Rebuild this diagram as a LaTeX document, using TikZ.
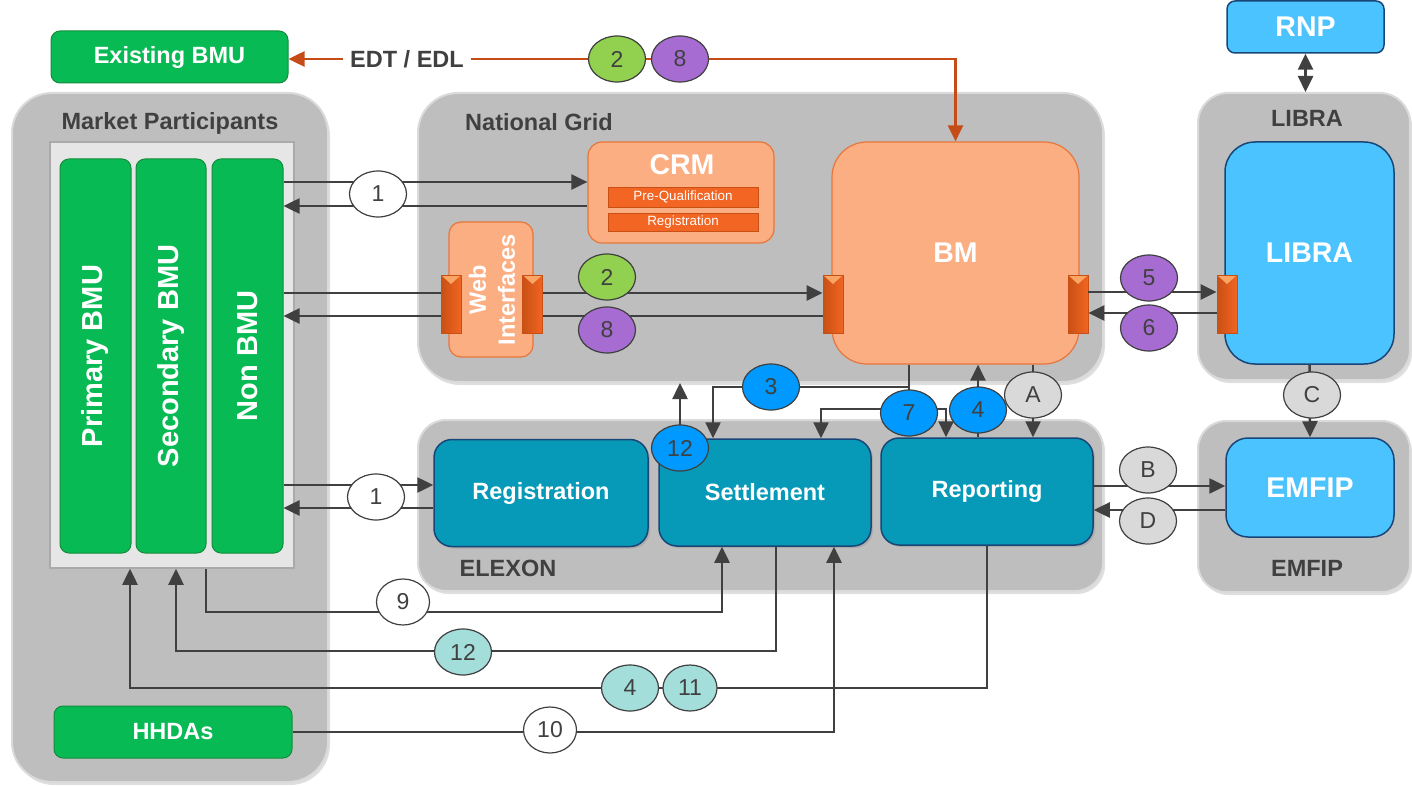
\documentclass[tikz,border=0pt]{standalone}
\usepackage{fontspec}
\setmainfont{Liberation Sans}
\usepackage{tikz}
\usetikzlibrary{
    arrows.meta,
    shapes.geometric,
    shadows
}

\definecolor{groupgray}{RGB}{190,190,190}
\definecolor{groupedge}{RGB}{218,218,218}
\definecolor{innergray}{RGB}{230,230,230}
\definecolor{inneredge}{RGB}{170,170,170}
\definecolor{mpgreen}{RGB}{8,186,84}
\definecolor{greenedge}{RGB}{20,140,60}
\definecolor{crmorange}{RGB}{251,174,130}
\definecolor{orangeedge}{RGB}{232,118,60}
\definecolor{deeporange}{RGB}{242,101,34}
\definecolor{portdark}{RGB}{200,80,20}
\definecolor{portlight}{RGB}{250,165,100}
\definecolor{tealbox}{RGB}{6,154,184}
\definecolor{navyedge}{RGB}{25,70,120}
\definecolor{skyblue}{RGB}{75,195,255}
\definecolor{linegray}{RGB}{64,64,64}
\definecolor{edtorange}{RGB}{197,75,23}
\definecolor{bgreen}{RGB}{146,208,80}
\definecolor{bpurple}{RGB}{167,108,210}
\definecolor{bblue}{RGB}{0,153,255}
\definecolor{bteal}{RGB}{164,222,219}
\definecolor{bgray}{RGB}{217,217,217}

\begin{document}
\begin{tikzpicture}[x=1pt,y=-1pt,>={Triangle[length=16pt,width=15pt]}]
    \tikzstyle{sysgroup}=[rectangle, rounded corners=40pt, fill=groupgray, draw=groupedge, line width=2pt, drop shadow={opacity=0.25, shadow xshift=2pt, shadow yshift=-3pt}]
    \tikzstyle{grouptitle}=[text=linegray, inner sep=2pt, font=\fontsize{23.5}{28}\selectfont\bfseries]
    \tikzstyle{gbox}=[rectangle, rounded corners=9pt, fill=mpgreen, draw=greenedge, line width=1pt, text=white, font=\fontsize{23.5}{28}\selectfont\bfseries]
    \tikzstyle{obox}=[rectangle, fill=crmorange, draw=orangeedge, line width=1.2pt, text=white, font=\fontsize{28.5}{32}\selectfont\bfseries]
    \tikzstyle{subbox}=[rectangle, fill=deeporange, draw=portdark, line width=0.8pt, inner sep=0pt, minimum width=150pt, text=white, font=\fontsize{13.4}{15}\selectfont]
    \tikzstyle{tbox}=[rectangle, rounded corners=18pt, fill=tealbox, draw=navyedge, line width=1.5pt, text=white, minimum width=212pt, minimum height=107pt, font=\fontsize{23.5}{28}\selectfont\bfseries, drop shadow={opacity=0.3, shadow xshift=2pt, shadow yshift=-2pt}]
    \tikzstyle{sbox}=[rectangle, fill=skyblue, draw=navyedge, line width=1.5pt, text=white, font=\fontsize{28.5}{32}\selectfont\bfseries]
    \tikzstyle{vtxt}=[rotate=90, text=white, font=\fontsize{29}{34}\selectfont\bfseries]
    \tikzstyle{port}=[rectangle, minimum width=20pt, minimum height=58pt, inner sep=0pt, left color=portdark, right color=deeporange, draw=portdark, line width=0.8pt,
        path picture={\fill[portlight] (path picture bounding box.north west) -- (path picture bounding box.north east) -- ([yshift=-9pt]path picture bounding box.north) -- cycle;}]
    \tikzstyle{flow}=[draw=linegray, line width=2.5pt, ->]
    \tikzstyle{link}=[draw=linegray, line width=2.5pt]
    \tikzstyle{edtline}=[draw=edtorange, line width=2.5pt]
    \tikzstyle{bubble}=[ellipse, draw=linegray, line width=1.2pt, minimum width=57pt, minimum height=46pt, inner sep=0pt, text=linegray, font=\fontsize{23}{26}\selectfont]

    \useasboundingbox (0,0) rectangle (1412,786);

    % system groups
    \node[sysgroup, minimum width=316pt, minimum height=689pt] (mp) at (170,437.5) {};
    \node[sysgroup, minimum width=685pt, minimum height=289pt] (ng) at (760.5,237.5) {};
    \node[sysgroup, rounded corners=28pt, minimum width=685pt, minimum height=171pt] (el) at (760.5,505.5) {};
    \node[sysgroup, rounded corners=30pt, minimum width=212pt, minimum height=287pt] (lb) at (1304,236.5) {};
    \node[sysgroup, rounded corners=28pt, minimum width=212pt, minimum height=171pt] (em) at (1304,506.5) {};
    \node[grouptitle] (mpt) at (170,123) {Market Participants};
    \node[grouptitle] (ngt) at (539,122) {National Grid};
    \node[grouptitle] (elt) at (508,568) {ELEXON};
    \node[grouptitle] (lbt) at (1307,118) {LIBRA};
    \node[grouptitle] (emt) at (1307,568) {EMFIP};

    % market participants
    \node[gbox, minimum width=237pt, minimum height=52pt] (exbmu) at (169.5,57) {Existing BMU};
    \node[rectangle, fill=innergray, draw=inneredge, line width=1.5pt, minimum width=244pt, minimum height=426pt] (mpin) at (172,355) {};
    \node[gbox, minimum width=71pt, minimum height=394pt] (pbmu) at (95.5,356) {};
    \node[gbox, minimum width=70pt, minimum height=394pt] (sbmu) at (171,356) {};
    \node[gbox, minimum width=71pt, minimum height=394pt] (nbmu) at (247.5,356) {};
    \node[vtxt] (pbt) at (pbmu) {Primary BMU};
    \node[vtxt] (sbt) at (sbmu) {Secondary BMU};
    \node[vtxt] (nbt) at (nbmu) {Non BMU};
    \node[gbox, minimum width=238pt, minimum height=52pt] (hhda) at (173,732) {HHDAs};

    % national grid
    \node[obox, rounded corners=14pt, minimum width=186pt, minimum height=101pt] (crm) at (681,192.5) {};
    \node[text=white, font=\fontsize{28.5}{32}\selectfont\bfseries] (crmt) at (682,165) {CRM};
    \node[subbox, minimum height=20pt] (preq) at (683,197) {Pre-Qualification};
    \node[subbox, minimum height=18pt] (creg) at (683,222) {Registration};
    \node[obox, rounded corners=12pt, minimum width=84pt, minimum height=135pt] (web) at (491,289.5) {};
    \node[rotate=90, align=center, text=white, font=\fontsize{23.5}{29}\selectfont\bfseries] (webt) at (492,290) {Web\\Interfaces};
    \node[port] (wpl) at (451,304) {};
    \node[port] (wpr) at (532.5,304) {};
    \node[obox, rounded corners=35pt, minimum width=247pt, minimum height=222pt] (bm) at (955.5,253) {BM};
    \node[port] (bpl) at (833,304) {};
    \node[port] (bpr) at (1078,304) {};

    % libra, rnp, emfip
    \node[sbox, rounded corners=30pt, minimum width=169pt, minimum height=222pt] (libra) at (1309.5,253) {LIBRA};
    \node[port] (lp) at (1227,304) {};
    \node[sbox, rounded corners=8pt, minimum width=157pt, minimum height=52pt] (rnp) at (1305.5,27) {RNP};
    \node[sbox, rounded corners=22pt, minimum width=168pt, minimum height=99pt] (emfip) at (1310,487.5) {EMFIP};

    % elexon
    \node[tbox, minimum width=214pt] (reg) at (541,493) {Registration};
    \node[tbox] (set) at (765,492.5) {Settlement};
    \node[tbox] (rep) at (987,491.5) {Reporting};

    % EDT / EDL
    \node[grouptitle, inner sep=7pt] (edt) at (407,59) {EDT / EDL};
    \draw[edtline, ->] (edt.west) -- (exbmu.east |- edt.west);
    \draw[edtline, ->] (edt.east) -| (bm.north);

    % flows to national grid
    \draw[flow] (nbmu.east |- 0,182) -- (crm.west |- 0,182);
    \draw[flow] (crm.west |- 0,206) -- (nbmu.east |- 0,206);
    \draw[link] (nbmu.east |- 0,293) -- (wpl.west |- 0,293);
    \draw[flow] (wpr.east |- 0,293) -- (bpl.west |- 0,293);
    \draw[link] (bpl.west |- 0,316) -- (wpr.east |- 0,316);
    \draw[flow] (wpl.west |- 0,316) -- (nbmu.east |- 0,316);
    \draw[flow] (bpr.east |- 0,292) -- (lp.west |- 0,292);
    \draw[flow] (lp.west |- 0,313) -- (bpr.east |- 0,313);
    \draw[flow, <->] (rnp.south) -- (rnp.south |- lb.north);
    \draw[flow] (libra.south) -- (emfip.north);

    % flows to elexon
    \draw[flow] (nbmu.east |- 0,485) -- (reg.west |- 0,485);
    \draw[flow] (reg.west |- 0,508) -- (nbmu.east |- 0,508);
    \draw[link] (bm.south -| 909,0) -- (909,413);
    \draw[flow] (909,387) -| (set.north -| 713,0);
    \draw[flow] (909,409) -| (set.north -| 821,0);
    \draw[flow] (909,409) -| (rep.north -| 946,0);
    \draw[flow] (rep.north -| 978,0) -- (bm.south -| 978,0);
    \draw[flow] (bm.south -| 1033,0) -- (rep.north -| 1033,0);
    \draw[flow] (set.north -| 680,0) -- (ng.south -| 680,0);
    \draw[flow] (rep.east |- 0,486) -- (emfip.west |- 0,486);
    \draw[flow] (emfip.west |- 0,510) -- (rep.east |- 0,510);

    % flows below
    \draw[flow] (mpin.south -| 206,0) |- (722,612) -- (set.south -| 722,0);
    \draw[flow] (set.south -| 776,0) |- (176,651) -- (mpin.south -| 176,0);
    \draw[flow] (rep.south -| 987,0) |- (130,688) -- (mpin.south -| 130,0);
    \draw[flow] (hhda.east) -| (set.south -| 834,0);

    % numbered flows
    \node[bubble, fill=bgreen] (n2b) at (617,59) {2};
    \node[bubble, fill=bpurple] (n8b) at (680,59) {8};
    \node[bubble, fill=white] (n1a) at (378,194) {1};
    \node[bubble, fill=bgreen] (n2a) at (607,277) {2};
    \node[bubble, fill=bpurple] (n8a) at (607,330) {8};
    \node[bubble, fill=bpurple] (n5) at (1149,278) {5};
    \node[bubble, fill=bpurple] (n6) at (1149,328) {6};
    \node[bubble, fill=white] (n1b) at (376,497) {1};
    \node[bubble, fill=bblue] (n3) at (771,387) {3};
    \node[bubble, fill=bblue] (n7) at (909,413) {7};
    \node[bubble, fill=bblue] (n4a) at (978,410) {4};
    \node[bubble, fill=bgray] (na) at (1033,395) {A};
    \node[bubble, fill=bblue] (n12a) at (680,448) {12};
    \node[bubble, fill=bgray] (nc) at (1312,395) {C};
    \node[bubble, fill=bgray] (nb) at (1148,470) {B};
    \node[bubble, fill=bgray] (nd) at (1148,521) {D};
    \node[bubble, fill=white, minimum width=53pt] (n9) at (403,602) {9};
    \node[bubble, fill=bteal] (n12b) at (463,652) {12};
    \node[bubble, fill=bteal] (n4b) at (630,688) {4};
    \node[bubble, fill=bteal, minimum width=54pt] (n11) at (690,688) {11};
    \node[bubble, fill=white, minimum width=53pt] (n10) at (550,730) {10};
\end{tikzpicture}
\end{document}
